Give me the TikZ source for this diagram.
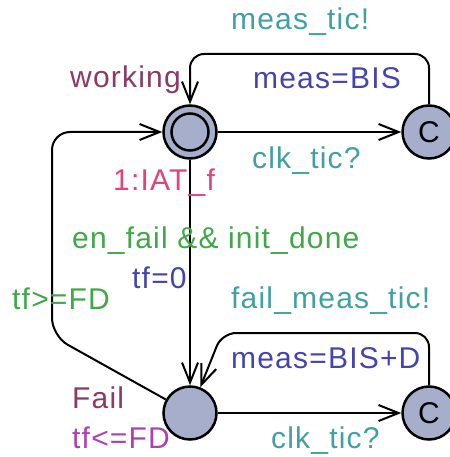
\documentclass[tikz,border=0pt]{standalone}
\usepackage{fontspec}
\setmainfont{Liberation Sans}[LetterSpace=4]
\usetikzlibrary{arrows.meta}
\definecolor{locfill}{RGB}{166,174,204}
\definecolor{locname}{RGB}{140,58,100}
\definecolor{invcol}{RGB}{176,64,176}
\definecolor{ratecol}{RGB}{228,64,124}
\definecolor{synccol}{RGB}{64,160,164}
\definecolor{updcol}{RGB}{68,68,176}
\definecolor{guardcol}{RGB}{64,168,72}
\begin{document}
\begin{tikzpicture}[x=1pt,y=-1pt,
  loc/.style={circle, draw=black, line width=2.5pt, fill=locfill, minimum size=53pt, inner sep=0pt, font=\fontsize{30}{32}\selectfont},
  edge/.style={line width=2pt, -{Straight Barb[length=20pt,width=16pt,line width=2pt]}, rounded corners=14pt},
  lbl/.style={anchor=base west, inner sep=0pt, font=\fontsize{30}{32}\selectfont}]
\useasboundingbox (0,0) rectangle (449,457);
% locations
\node[loc] (working) at (190,132) {};
\node[circle, draw=black, line width=2.5pt, minimum size=37pt, inner sep=0pt] (workinginner) at (190,132) {};
\node[loc] (c1) at (429,132) {C};
\node[loc] (fail) at (190,413) {};
\node[loc] (c2) at (429,413) {C};
% corner coordinates
\coordinate (t1) at (429,54);
\coordinate (t2) at (190,54);
\coordinate (b1) at (429,333);
\coordinate (b2) at (222,333);
\coordinate (l1) at (52,336);
\coordinate (l2) at (52,132);
% edges
\draw[edge] (working) -- (c1);
\draw[edge] (c1.north) -- (t1) -- (t2) -- (working.north);
\draw[edge] (working) -- (fail);
\draw[edge] (fail) -- (c2);
\draw[edge] (c2.north) -- (b1) -- (b2) -- (fail);
\draw[edge, rounded corners=18pt] (fail) -- (l1) -- (l2) -- (working);
% labels
\node[lbl, text=locname] (nworking) at (70,88) {working};
\node[lbl, text=locname] (nfail) at (72,408) {Fail};
\node[lbl, text=invcol] (ninv) at (72,448) {tf<=FD};
\node[lbl, text=ratecol] (nrate) at (113,190) {1:IAT\_f};
\node[lbl, text=synccol] (s1) at (231,30) {meas\_tic!};
\node[lbl, text=updcol] (u1) at (253,89) {meas=BIS};
\node[lbl, text=synccol] (s2) at (252,168) {clk\_tic?};
\node[lbl, text=guardcol] (g1) at (72,248) {en\_fail \&\& init\_done};
\node[lbl, text=updcol] (u2) at (132,288) {tf=0};
\node[lbl, text=guardcol] (g2) at (12,309) {tf>=FD};
\node[lbl, text=synccol] (s3) at (231,308) {fail\_meas\_tic!};
\node[lbl, text=updcol] (u3) at (231,368) {meas=BIS+D};
\node[lbl, text=synccol] (s4) at (271,448) {clk\_tic?};
\end{tikzpicture}
\end{document}
